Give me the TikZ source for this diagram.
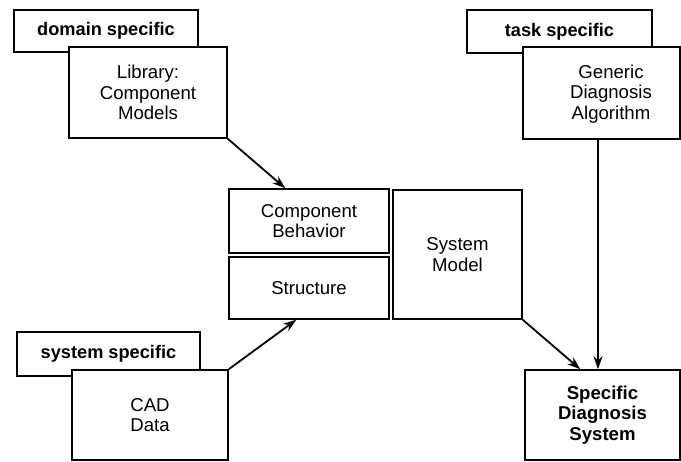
\documentclass[tikz,border=0pt]{standalone}
\usepackage{fontspec}
\setmainfont{Liberation Sans}
\usetikzlibrary{arrows.meta}
\begin{document}
\begin{tikzpicture}[x=1pt,y=-1pt,
  box/.style={draw=black, line width=1.6pt, fill=white, rectangle, inner sep=0pt,
    align=center, font=\fontsize{18.6}{20.5}\selectfont},
  tag/.style={box, font=\fontsize{18.2}{20.5}\selectfont\bfseries},
  txt/.style={inner sep=0pt, align=center, font=\fontsize{18.6}{20.5}\selectfont},
  link/.style={line width=1.8pt, -{Stealth[length=13pt,width=9pt]}}]
\useasboundingbox (0,0) rectangle (681,462);

% domain specific group
\node[tag, minimum width=184pt, minimum height=42pt] (dom) at (106,31) {domain specific};
\node[box, minimum width=158pt, minimum height=91pt] (lib) at (148,92.5) {Library:\\Component\\Models};

% task specific group
\node[tag, minimum width=185pt, minimum height=43pt] (task) at (559.5,31.5) {task specific};
\node[box, minimum width=157pt, minimum height=92pt] (gen) at (601.5,93) {};
\node[txt] (genlabel) at (611,94) {Generic\\Diagnosis\\Algorithm};

% system model in the middle
\node[box, minimum width=160pt, minimum height=64pt] (cb) at (309,221) {Component\\Behavior};
\node[box, minimum width=160pt, minimum height=62pt] (st) at (309,288) {Structure};
\node[box, minimum width=129pt, minimum height=129pt] (sm) at (457.5,254.5) {System\\Model};

% system specific group
\node[tag, minimum width=183pt, minimum height=44pt] (sys) at (108.5,354) {system specific};
\node[box, minimum width=156pt, minimum height=90pt] (cad) at (150,415) {CAD\\Data};

% result
\node[box, minimum width=155pt, minimum height=90pt, font=\fontsize{18.6}{20.5}\selectfont\bfseries] (sds) at (602.5,415) {Specific\\Diagnosis\\System};

% connectors
\draw[link] (lib.south east) -- ([xshift=57pt]cb.north west);
\draw[link] (cad.north east) -- ([xshift=68pt]st.south west);
\draw[link] (sm.south east) -- ([xshift=56pt]sds.north west);
\draw[link] ([xshift=-3.5pt]gen.south) -- ([xshift=-4.5pt]sds.north);
\end{tikzpicture}
\end{document}
